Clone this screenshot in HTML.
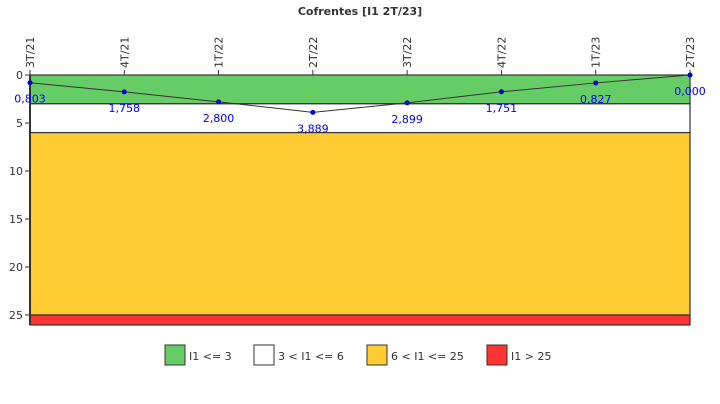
<!DOCTYPE html>
<html><head><meta charset="utf-8"><style>
body{margin:0;background:#fff;width:720px;height:400px;overflow:hidden;font-family:"DejaVu Sans","Liberation Sans",sans-serif}
</style></head><body>
<svg id="c" width="720" height="400" xmlns="http://www.w3.org/2000/svg">
<text x="360" y="15" text-anchor="middle" font-size="11" font-weight="bold" fill="#333">Cofrentes [I1 2T/23]</text>
</svg>
<script>
const categories=["3T/21","4T/21","1T/22","2T/22","3T/22","4T/22","1T/23","2T/23"];
const values=[0.803,1.758,2.800,3.889,2.899,1.751,0.827,0.000];
const valueLabels=["0,803","1,758","2,800","3,889","2,899","1,751","0,827","0,000"];
const yTicks=[0,5,10,15,20,25];
const bandLimits=[0,3,6,25,26.04];
const bandColors=["#66cc66","#ffffff","#ffcc33","#ff3333"];
const legendLabels=["I1 <= 3","3 < I1 <= 6","6 < I1 <= 25","I1 > 25"];
const NS="http://www.w3.org/2000/svg";
const svg=document.getElementById('c');
const L=30,R=690,T=75,PX=9.6;
const y=v=>T+v*PX;
const x=i=>L+i*(R-L)/(categories.length-1);
function mk(t,a,p){const e=document.createElementNS(NS,t);for(const k in a)e.setAttribute(k,a[k]);(p||svg).appendChild(e);return e;}
for(let i=0;i<bandColors.length;i++){
 const r=mk('rect',{x:L,y:y(bandLimits[i]),width:R-L,height:y(bandLimits[i+1])-y(bandLimits[i]),fill:bandColors[i],stroke:'#333','stroke-width':1.2});
 
 
}
const ax=mk('line',{x1:L,y1:T,x2:L,y2:y(bandLimits[4]),stroke:'#333','stroke-width':2});


yTicks.forEach(v=>{
 mk('line',{x1:L-5,y1:y(v),x2:L,y2:y(v),stroke:'#333'});
 const t=mk('text',{x:L-7,y:y(v)+4,'text-anchor':'end','font-size':11,fill:'#333'});t.textContent=v;
 
 
});
categories.forEach((c,i)=>{
 mk('line',{x1:x(i),y1:T-5,x2:x(i),y2:T,stroke:'#333'});
 const t=mk('text',{transform:`translate(${x(i)+4},${T-7}) rotate(-90)`,'font-size':11,fill:'#333'});t.textContent=c;
 
 
});
const pl=mk('polyline',{points:values.map((v,i)=>x(i)+','+y(v)).join(' '),fill:'none',stroke:'#333','stroke-width':1});


values.forEach((v,i)=>{
 const p=mk('circle',{cx:x(i),cy:y(v),r:2.5,fill:'#0000cc'});
 
 
 const t=mk('text',{x:x(i),y:y(v)+20,'text-anchor':'middle','font-size':11,fill:'#0000ff'});t.textContent=valueLabels[i];
 
 
});
const lx=[165,254,367,487];
legendLabels.forEach((l,i)=>{
 const g=mk('g',{});
 
 
 mk('rect',{x:lx[i],y:345,width:20,height:20,fill:bandColors[i],stroke:'#333'},g);
 const t=mk('text',{x:lx[i]+24,y:360,'font-size':11,fill:'#333'},g);t.textContent=l;
});
</script>
</body></html>
